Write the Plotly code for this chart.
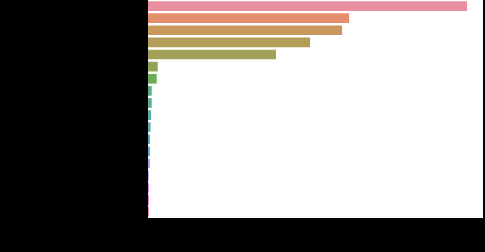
import colorsys
import math

import plotly.graph_objects as go

# Horizontal bar chart, one bar per category, sorted from largest to smallest
categories = [f"Category {i}" for i in range(1, 19)]
values = [3184, 2007, 1937, 1617, 1277, 97, 87, 37, 37, 30, 25, 20, 15, 12, 10, 8, 7, 6]


# --- HUSL colour palette (same hues as seaborn's husl_palette) ---
_M = [[3.2406, -1.5372, -0.4986],
      [-0.9689, 1.8758, 0.0415],
      [0.0557, -0.2040, 1.0570]]
_KAPPA = 24389 / 27
_EPS = 216 / 24389
_REF_U = 0.19783940212
_REF_V = 0.46834220074


def _max_chroma(L, H):
    hrad = math.radians(H)
    sinh, cosh = math.sin(hrad), math.cos(hrad)
    sub1 = (L + 16) ** 3 / 1560896.0
    sub2 = sub1 if sub1 > _EPS else L / _KAPPA
    result = float("inf")
    for m1, m2, m3 in _M:
        top = (0.99915 * m1 + 1.05122 * m2 + 1.14460 * m3) * sub2
        rbottom = 0.86330 * m3 - 0.17266 * m2
        lbottom = 0.12949 * m3 - 0.38848 * m1
        bottom = (rbottom * sinh + lbottom * cosh) * sub2
        for t in (0.0, 1.0):
            C = L * (top - 1.05122 * t) / (bottom + 0.17266 * sinh * t)
            if 0 < C < result:
                result = C
    return result


def _from_linear(c):
    return 12.92 * c if c <= 0.0031308 else 1.055 * c ** (1 / 2.4) - 0.055


def husl_to_rgb(h, s, l):
    C = _max_chroma(l, h) / 100 * s
    hr = math.radians(h)
    U, V = C * math.cos(hr), C * math.sin(hr)
    t = (l + 16) / 116
    varY = t ** 3 if t ** 3 > _EPS else (116 * t - 16) / _KAPPA
    varU = U / (13 * l) + _REF_U
    varV = V / (13 * l) + _REF_V
    Y = varY
    X = -(9 * Y * varU) / ((varU - 4) * varV - varU * varV)
    Z = (9 * Y - 15 * varV * Y - varV * X) / (3 * varV)
    rgb = [_from_linear(r[0] * X + r[1] * Y + r[2] * Z) for r in _M]
    return [min(max(c, 0.0), 1.0) for c in rgb]


def husl_palette(n, h=0.01, s=0.9, l=0.65, desat=0.75):
    out = []
    for i in range(n):
        hue = ((i / n + h) % 1) * 359
        r, g, b = husl_to_rgb(hue, s * 99, l * 99)
        hh, ll, ss = colorsys.rgb_to_hls(r, g, b)
        r, g, b = colorsys.hls_to_rgb(hh, ll, ss * desat)
        out.append(f"rgb({round(r*255)},{round(g*255)},{round(b*255)})")
    return out


colors = husl_palette(len(categories))

fig = go.Figure(
    go.Bar(
        x=values,
        y=categories,
        orientation="h",
        marker=dict(color=colors, line=dict(width=0)),
        opacity=0.88,
        hoverinfo="x+y",
    )
)

fig.update_layout(
    width=485,
    height=252,
    margin=dict(l=148, r=2, t=0, b=34),
    paper_bgcolor="black",
    plot_bgcolor="white",
    bargap=0.2,
    showlegend=False,
)
fig.update_xaxes(
    range=[0, max(values) * 1.05],
    showgrid=False,
    zeroline=False,
    showline=True,
    linecolor="black",
    ticks="outside",
    tickcolor="black",
    tickfont=dict(color="black", size=10),
)
fig.update_yaxes(
    autorange="reversed",
    showgrid=False,
    showline=True,
    linecolor="black",
    linewidth=1,
    showticklabels=False,
)

fig.write_html("out.html")
